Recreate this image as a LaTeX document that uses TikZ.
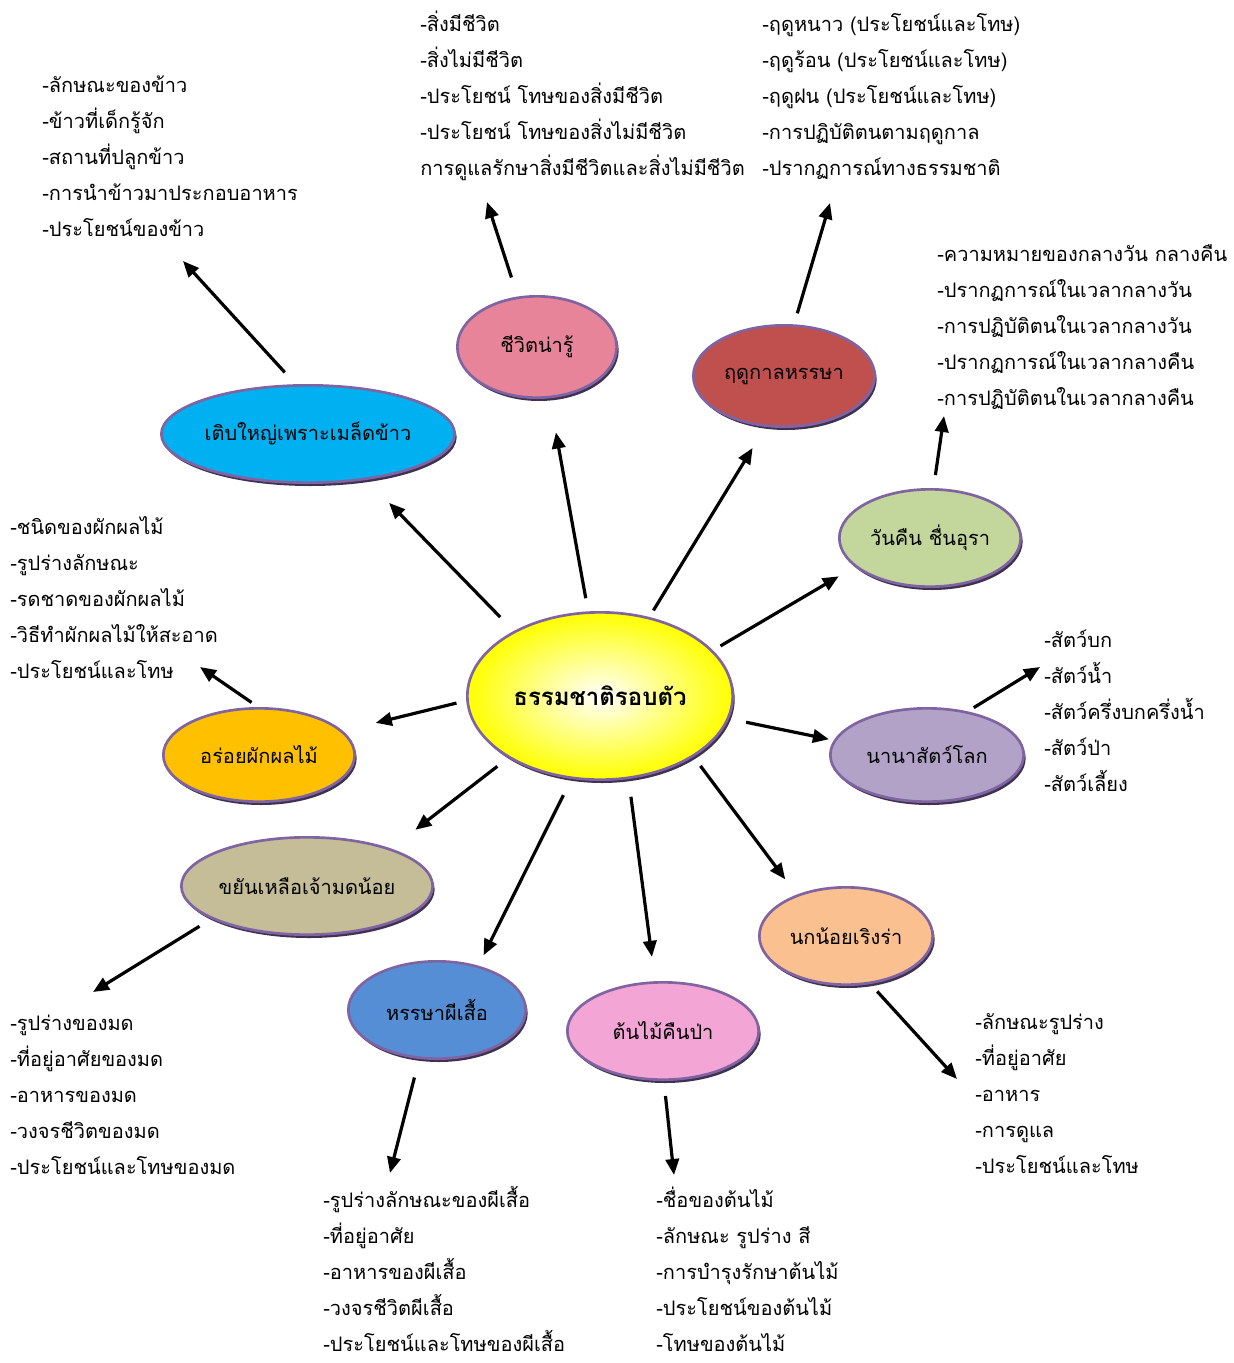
\documentclass[tikz,border=0pt]{standalone}
\usepackage{fontspec}
\newfontfamily\thaifont[Script=Thai]{Loma}
\usepackage{xcolor}
\usepackage{tikz}
\usetikzlibrary{arrows.meta,shapes.geometric,shadows}
\definecolor{bordc}{HTML}{8064A2}
\definecolor{shadc}{HTML}{3F3151}
\definecolor{centc}{RGB}{255,255,0}
\definecolor{glowc}{RGB}{255,255,255}
\definecolor{ricec}{HTML}{00B0F0}
\definecolor{lifec}{HTML}{E8849A}
\definecolor{seasonc}{HTML}{C0504D}
\definecolor{dayc}{HTML}{C3D69B}
\definecolor{animalc}{HTML}{B2A2C7}
\definecolor{birdc}{HTML}{FAC090}
\definecolor{treec}{HTML}{F3A5D6}
\definecolor{butterc}{HTML}{558ED5}
\definecolor{antc}{HTML}{C4BD97}
\definecolor{fruitc}{HTML}{FFC000}

\begin{document}
\begin{tikzpicture}[x=0.75pt,y=-0.75pt,
  topic/.style={ellipse, draw=bordc, line width=2pt, inner sep=0pt, font=\thaifont\fontsize{15}{18}\selectfont,
    drop shadow={shadow xshift=1.5pt, shadow yshift=-2.5pt, fill=shadc, opacity=1}},
  topiclist/.style={anchor=north west, align=left, inner sep=0pt, font=\thaifont\fontsize{15}{27}\selectfont},
  arr/.style={line width=2.4pt, -{Triangle[length=12pt,width=10pt]}}]
  \useasboundingbox (0,0) rectangle (1234,1363);

  \node[topic, shading=radial, inner color=glowc, outer color=centc, minimum width=199pt, minimum height=125.5pt,
    font=\thaifont\bfseries\fontsize{18}{21}\selectfont] (nature) at (600,696) {\raisebox{-5pt}{ธรรมชาติรอบตัว}};
  \node[topic, fill=ricec, minimum width=220pt, minimum height=73pt] (rice) at (308,434) {เติบใหญ่เพราะเมล็ดข้าว};
  \node[topic, fill=lifec, minimum width=119.5pt, minimum height=76pt] (life) at (537,347) {ชีวิตน่ารู้};
  \node[topic, fill=seasonc, minimum width=136pt, minimum height=76pt] (season) at (784,376) {ฤดูกาลหรรษา};
  \node[topic, fill=dayc, minimum width=136pt, minimum height=73pt] (day) at (930,538) {วันคืน ชื่นอุรา};
  \node[topic, fill=animalc, minimum width=145pt, minimum height=70pt] (animal) at (927,755) {นานาสัตว์โลก};
  \node[topic, fill=birdc, minimum width=130pt, minimum height=73pt] (bird) at (846,936) {นกน้อยเริงร่า};
  \node[topic, fill=treec, minimum width=143.5pt, minimum height=73pt] (tree) at (663,1031) {ต้นไม้คืนป่า};
  \node[topic, fill=butterc, minimum width=133pt, minimum height=73pt] (butterfly) at (437,1010) {หรรษาผีเสื้อ};
  \node[topic, fill=antc, minimum width=188.5pt, minimum height=73pt] (ant) at (307,886) {ขยันเหลือเจ้ามดน้อย};
  \node[topic, fill=fruitc, minimum width=143.5pt, minimum height=70pt] (fruit) at (259,755) {อร่อยผักผลไม้};

  \node[topiclist] (ricelist) at (42,66) {\rule{0pt}{20pt}-ลักษณะของข้าว\\-ข้าวที่เด็กรู้จัก\\-สถานที่ปลูกข้าว\\-การนำข้าวมาประกอบอาหาร\\-ประโยชน์ของข้าว};
  \node[topiclist] (lifelist) at (420,5) {\rule{0pt}{20pt}-สิ่งมีชีวิต\\-สิ่งไม่มีชีวิต\\-ประโยชน์ โทษของสิ่งมีชีวิต\\-ประโยชน์ โทษของสิ่งไม่มีชีวิต\\การดูแลรักษาสิ่งมีชีวิตและสิ่งไม่มีชีวิต};
  \node[topiclist] (seasonlist) at (762,5) {\rule{0pt}{20pt}-ฤดูหนาว (ประโยชน์และโทษ)\\-ฤดูร้อน (ประโยชน์และโทษ)\\-ฤดูฝน (ประโยชน์และโทษ)\\-การปฏิบัติตนตามฤดูกาล\\-ปรากฏการณ์ทางธรรมชาติ};
  \node[topiclist] (daylist) at (937,235) {\rule{0pt}{20pt}-ความหมายของกลางวัน กลางคืน\\-ปรากฏการณ์ในเวลากลางวัน\\-การปฏิบัติตนในเวลากลางวัน\\-ปรากฏการณ์ในเวลากลางคืน\\-การปฏิบัติตนในเวลากลางคืน};
  \node[topiclist] (fruitlist) at (10,508) {\rule{0pt}{20pt}-ชนิดของผักผลไม้\\-รูปร่างลักษณะ\\-รดชาดของผักผลไม้\\-วิธีทำผักผลไม้ให้สะอาด\\-ประโยชน์และโทษ};
  \node[topiclist] (animallist) at (1044,621) {\rule{0pt}{20pt}-สัตว์บก\\-สัตว์น้ำ\\-สัตว์ครึ่งบกครึ่งน้ำ\\-สัตว์ป่า\\-สัตว์เลี้ยง};
  \node[topiclist] (antlist) at (10,1004) {\rule{0pt}{20pt}-รูปร่างของมด\\-ที่อยู่อาศัยของมด\\-อาหารของมด\\-วงจรชีวิตของมด\\-ประโยชน์และโทษของมด};
  \node[topiclist] (butterlist) at (323,1181) {\rule{0pt}{20pt}-รูปร่างลักษณะของผีเสื้อ\\-ที่อยู่อาศัย\\-อาหารของผีเสื้อ\\-วงจรชีวิตผีเสื้อ\\-ประโยชน์และโทษของผีเสื้อ};
  \node[topiclist] (treelist) at (656,1181) {\rule{0pt}{20pt}-ชื่อของต้นไม้\\-ลักษณะ รูปร่าง สี\\-การบำรุงรักษาต้นไม้\\-ประโยชน์ของต้นไม้\\-โทษของต้นไม้};
  \node[topiclist] (birdlist) at (975,1003) {\rule{0pt}{20pt}-ลักษณะรูปร่าง\\-ที่อยู่อาศัย\\-อาหาร\\-การดูแล\\-ประโยชน์และโทษ};

  \coordinate (riceend) at (183,261);
  \coordinate (lifeend) at (487,202);
  \coordinate (seasonend) at (830,203);
  \coordinate (dayend) at (944,416);
  \coordinate (animalend) at (1040,667);
  \coordinate (birdend) at (957,1079);
  \coordinate (treeend) at (674,1175);
  \coordinate (butterend) at (390,1173);
  \coordinate (antend) at (93,992);
  \coordinate (fruitend) at (200,667);

  \draw[arr, shorten <=14.5pt, shorten >=24pt] (nature.143.6) -- (rice.-38.8);
  \draw[arr, shorten <=10pt, shorten >=26pt] (nature.98.7) -- (life.-76.8);
  \draw[arr, shorten <=5.8pt, shorten >=18.5pt] (nature.58.8) -- (season.-110);
  \draw[arr, shorten <=6.5pt, shorten >=14pt] (nature.22.6) -- (day.-159.4);
  \draw[arr, shorten <=13pt, shorten >=3.7pt] (nature.-10.1) -- (animal.171.9);
  \draw[arr, shorten <=8.5pt, shorten >=14.3pt] (nature.-33) -- (bird.140.8);
  \draw[arr, shorten <=13.4pt, shorten >=18.4pt] (nature.-71.2) -- (tree.99.2);
  \draw[arr, shorten <=13.5pt, shorten >=8.7pt] (nature.-109.3) -- (butterfly.47.2);
  \draw[arr, shorten <=10.3pt, shorten >=23pt] (nature.-146.4) -- (ant.24.9);
  \draw[arr, shorten <=7.5pt, shorten >=25.4pt] (nature.-178.4) -- (fruit.16.9);

  \draw[arr, shorten <=12pt] (rice.104) -- (riceend);
  \draw[arr, shorten <=15pt] (life.111.4) -- (lifeend);
  \draw[arr, shorten <=8.6pt] (season.79.2) -- (seasonend);
  \draw[arr, shorten <=9.8pt] (day.86.4) -- (dayend);
  \draw[arr, shorten <=5.3pt] (animal.47.4) -- (animalend);
  \draw[arr, shorten <=7.5pt] (bird.-63) -- (birdend);
  \draw[arr, shorten <=11.3pt] (tree.-89.1) -- (treeend);
  \draw[arr, shorten <=14.3pt] (butterfly.-110.5) -- (butterend);
  \draw[arr, shorten <=10.5pt] (ant.-161.4) -- (antend);
  \draw[arr, shorten <=6pt] (fruit.91) -- (fruitend);
\end{tikzpicture}
\end{document}
